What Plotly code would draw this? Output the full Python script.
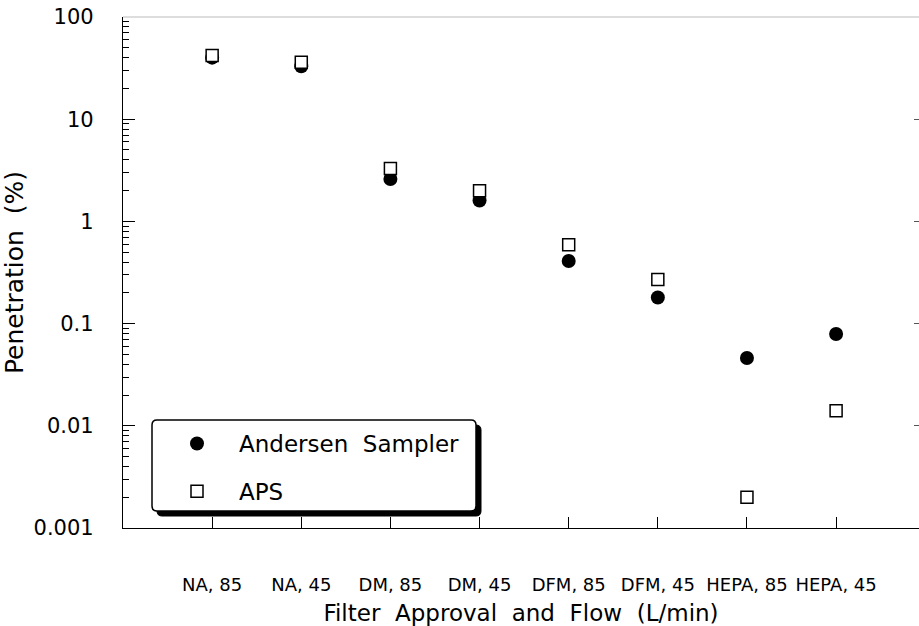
import plotly.graph_objects as go

categories = ["NA, 85", "NA, 45", "DM, 85", "DM, 45", "DFM, 85", "DFM, 45", "HEPA, 85", "HEPA, 45"]
andersen = [40, 33, 2.6, 1.6, 0.41, 0.18, 0.046, 0.079]
aps = [42, 36, 3.3, 2.0, 0.59, 0.27, 0.002, 0.014]
y_major = [0.001, 0.01, 0.1, 1, 10, 100]
y_major_text = ["0.001", "0.01", "0.1", "1", "10", "100"]
y_minor = [m * d for d in [0.001, 0.01, 0.1, 1, 10] for m in range(2, 10)]

W, H = 919, 626
ML, MR, MT, MB = 123, 0, 17, 98
PW, PH = W - ML - MR, H - MT - MB
FONT = "DejaVu Sans"

def px2paper(x, y):
    return (x - ML) / PW, (H - MB - y) / PH

def rounded(x0, y0, x1, y1, r=5):
    # pixel box -> paper path with rounded corners
    rx, ry = r / PW, r / PH
    a0, b0 = px2paper(x0, y1)  # bottom-left
    a1, b1 = px2paper(x1, y0)  # top-right
    return (f"M {a0+rx},{b0} L {a1-rx},{b0} Q {a1},{b0} {a1},{b0+ry} "
            f"L {a1},{b1-ry} Q {a1},{b1} {a1-rx},{b1} L {a0+rx},{b1} "
            f"Q {a0},{b1} {a0},{b1-ry} L {a0},{b0+ry} Q {a0},{b0} {a0+rx},{b0} Z")

fig = go.Figure()
fig.add_trace(go.Scatter(
    x=categories, y=andersen, mode="markers", name="Andersen  Sampler",
    legendgroup="a",
    marker=dict(symbol="circle", size=14, color="black", line=dict(width=0)),
))
fig.add_trace(go.Scatter(
    x=categories, y=aps, mode="markers", name="APS",
    legendgroup="b",
    marker=dict(symbol="square", size=12, color="white", line=dict(width=1.5, color="black")),
))
# invisible helper trace so the right-hand tick axis is drawn
fig.add_trace(go.Scatter(
    x=categories, y=aps, mode="markers", yaxis="y2", showlegend=False,
    hoverinfo="skip", marker=dict(opacity=0),
))

fig.update_layout(
    width=W, height=H,
    margin=dict(l=ML, r=MR, t=MT, b=MB, pad=0),
    paper_bgcolor="white", plot_bgcolor="white",
    font=dict(family=FONT, color="black"),
    showlegend=True,
    legend=dict(
        x=px2paper(155, 0)[0], y=px2paper(0, 422)[1], xanchor="left", yanchor="top",
        bgcolor="rgba(0,0,0,0)", borderwidth=0,
        font=dict(family=FONT, size=23, color="black"),
        itemwidth=74, traceorder="grouped", tracegroupgap=15,
    ),
    xaxis=dict(
        type="category", categoryorder="array", categoryarray=categories,
        range=[-1, 7.93],
        showline=True, linecolor="black", linewidth=1.3,
        ticks="inside", ticklen=11, tickwidth=1.3, tickcolor="black",
        ticklabelstandoff=40,
        tickfont=dict(family=FONT, size=18, color="black"),
        showgrid=False, zeroline=False,
        title=dict(text="Filter  Approval  and  Flow  (L/min)",
                   font=dict(family=FONT, size=23, color="black"), standoff=14),
    ),
    yaxis=dict(
        type="log", range=[-3, 2],
        showline=True, linecolor="black", linewidth=1.3,
        ticks="inside", ticklen=12, tickwidth=1.3, tickcolor="black",
        tickvals=y_major, ticktext=y_major_text,
        ticklabelstandoff=24,
        tickfont=dict(family=FONT, size=21, color="black"),
        minor=dict(tickvals=y_minor, ticks="inside", ticklen=6, tickwidth=1, tickcolor="black"),
        showgrid=False, zeroline=False,
        title=dict(text="Penetration  (%)",
                   font=dict(family=FONT, size=25, color="black"), standoff=6),
    ),
    yaxis2=dict(
        type="log", range=[-3, 2], overlaying="y", side="right",
        showline=False, showgrid=False, zeroline=False,
        ticks="inside", ticklen=5, tickwidth=1.2, tickcolor="#555",
        tickvals=[0.01, 0.1, 1, 10], showticklabels=False,
    ),
    shapes=[
        dict(type="line", xref="paper", yref="paper", x0=0, x1=1, y0=1, y1=1,
             line=dict(color="#bbbbbb", width=1), layer="below"),
        dict(type="path", xref="paper", yref="paper", path=rounded(157, 425, 481, 516),
             fillcolor="black", line=dict(color="black", width=1), layer="above"),
        dict(type="path", xref="paper", yref="paper", path=rounded(152, 420, 476, 511),
             fillcolor="white", line=dict(color="black", width=1.5), layer="above"),
    ],
)

fig.write_html("out.html")
